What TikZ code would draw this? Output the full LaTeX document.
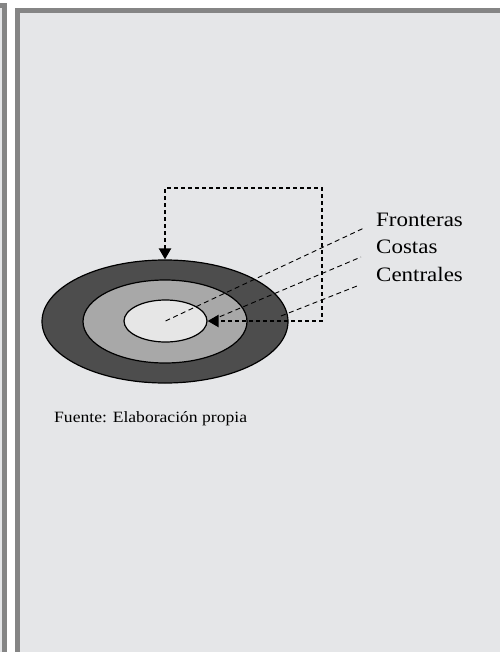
\documentclass[tikz,border=0pt]{standalone}
\usepackage{fontspec}
\setmainfont{Liberation Serif}[FakeStretch=1.12]
\usetikzlibrary{arrows.meta,shapes.geometric}
\definecolor{panel}{HTML}{E5E6E8}
\definecolor{frame}{HTML}{858585}
\definecolor{ringA}{HTML}{4D4D4D}
\definecolor{ringB}{HTML}{A8A8A8}
\definecolor{ringC}{HTML}{E6E6E6}
\tikzset{
  ring/.style={ellipse, draw=black, line width=1.2pt, inner sep=0pt},
  fb/.style={line width=2.2pt, dash pattern=on 4pt off 3pt},
  lead/.style={line width=0.9pt, dash pattern=on 5pt off 3.5pt},
  lab/.style={anchor=base west, inner sep=0pt, font=\fontsize{20.5}{24}\selectfont},
  src/.style={anchor=base west, inner sep=0pt, font=\fontsize{15.7}{18}\selectfont}
}
\begin{document}
\begin{tikzpicture}[x=1pt,y=-1pt]
\useasboundingbox (0,0) rectangle (500,652);
\fill[white] (0,0) rectangle (500,652);
% left panel
\fill[panel] (0,6) rectangle (4.5,652);
\draw[frame, line width=5pt] (0,6) -- (4.5,6) -- (4.5,652);
% right panel
\fill[panel] (17.5,10.5) rectangle (500,652);
\draw[frame, line width=5pt] (17.5,652) -- (17.5,10.5) -- (500,10.5);
% rings
\node[ring, fill=ringA, minimum width=246pt, minimum height=123pt] (outer) at (165,321.5) {};
\node[ring, fill=ringB, minimum width=164pt, minimum height=83pt] (middle) at (165,321.5) {};
\node[ring, fill=ringC, minimum width=83pt, minimum height=42pt] (inner) at (165.5,321) {};
% feedback loop
\coordinate (tl) at (165,188);
\coordinate (tr) at (322,188);
\coordinate (br) at (322,321);
\draw[fb, {Triangle[length=11pt,width=12pt]}-{Triangle[length=11pt,width=12pt]}]
  (outer.north) -- (tl) -- (tr) -- (br) -- (inner.east);
% labels
\node[lab] (fr) at (376,226) {Fronteras};
\node[lab] (co) at (376,253) {Costas};
\node[lab] (ce) at (376,281) {Centrales};
\coordinate (frE) at (364,228);
\coordinate (coE) at (361,257);
\coordinate (ceE) at (357,286);
\coordinate (coS) at (212,320);
\coordinate (ceS) at (281,316);
\draw[lead] (inner.center) -- (frE);
\draw[lead] (coS) -- (coE);
\draw[lead] (ceS) -- (ceE);
\node[src] (fuente) at (54,422) {Fuente: Elaboración propia};
\end{tikzpicture}
\end{document}
